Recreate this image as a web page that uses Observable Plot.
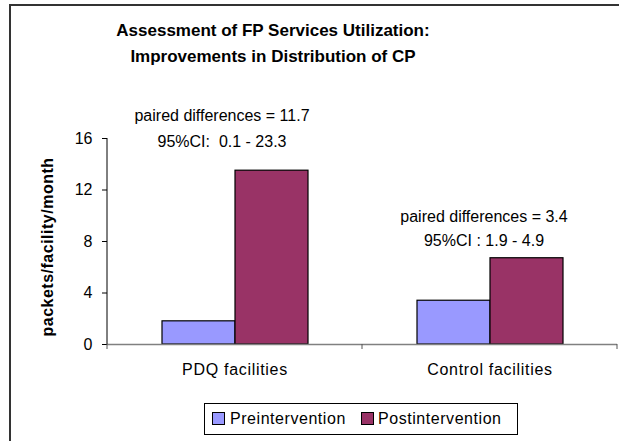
<!DOCTYPE html>
<html>
<head>
<meta charset="utf-8">
<script src="https://cdn.jsdelivr.net/npm/d3@7"></script>
<script src="https://cdn.jsdelivr.net/npm/@observablehq/plot@0.6"></script>
<style>
  body { margin: 0; background: #fff; }
  #wrap { position: relative; width: 619px; height: 441px; overflow: hidden; font-family: "Liberation Sans", Arial, sans-serif; background: #fff; }
  #wrap svg { position: absolute; left: 0; top: 0; }
  #frame { position: absolute; left: 9px; top: 4px; width: 700px; height: 600px; border-top: 2px solid #333; border-left: 2px solid #333; box-sizing: border-box; }
  #title { position: absolute; left: 0; top: 18px; width: 546px; text-align: center; font-weight: bold; font-size: 17px; line-height: 26px; color: #000; }
  #legend { position: absolute; left: 204px; top: 403px; width: 314px; height: 32px; border: 1px solid #000; box-sizing: border-box; font-size: 16px; color: #000; }
  #legend .sw { position: absolute; top: 8px; width: 13px; height: 13px; border: 1px solid #000; box-sizing: border-box; }
  #legend .lb { position: absolute; top: 5px; line-height: 20px; white-space: nowrap; letter-spacing: 0.55px; }
</style>
</head>
<body>
<div id="wrap">
  <div id="title">Assessment of FP Services Utilization:<br>Improvements in Distribution of CP</div>
</div>
<script>
// ---- data ----
const categories = ["PDQ facilities", "Control facilities"];
const series = ["Preintervention", "Postintervention"];
const preValues = [1.8, 3.4];
const postValues = [13.5, 6.7];
const yTicks = [0, 4, 8, 12, 16];
const seriesColors = ["#9999FF", "#993366"];
const annotationLine1 = ["paired differences = 11.7", "paired differences = 3.4"];
const annotationLine2 = ["95%CI:  0.1 - 23.3", "95%CI : 1.9 - 4.9"];
const annotationAt = [17.0, 9.2];
const yLabel = "packets/facility/month";

const rows = categories.flatMap((c, i) => [
  {cat: c, series: series[0], value: preValues[i]},
  {cat: c, series: series[1], value: postValues[i]}
]);
const notes = categories.map((c, i) => ({cat: c, y: annotationAt[i], text: annotationLine1[i] + "\n" + annotationLine2[i]}));

const chart = Plot.plot({
  width: 619,
  height: 441,
  marginLeft: 106,
  marginRight: 2,
  marginTop: 138,
  marginBottom: 97,
  style: {fontFamily: "'Liberation Sans', Arial, sans-serif", fontSize: "16px", background: "transparent", color: "#000", overflow: "visible"},
  fx: {domain: categories, padding: 0, axis: "bottom", tickSize: 0, tickPadding: 19, label: null},
  x: {domain: series, paddingInner: 0, paddingOuter: 0.741, axis: null},
  y: {domain: [0, 16], ticks: yTicks, tickSize: 5, tickPadding: 10, label: null},
  color: {domain: series, range: seriesColors},
  marks: [
    Plot.barY(rows, {fx: "cat", x: "series", y: "value", fill: "series", stroke: "#000", strokeWidth: 1.2}),
    Plot.ruleY([0], {stroke: "#808080", strokeWidth: 1.5}),
    Plot.text(notes.filter(d => d.cat === categories[0]), {fx: "cat", y: "y", text: "text", lineHeight: 1.65, dx: -13, fontSize: 16}),
    Plot.text(notes.filter(d => d.cat === categories[1]), {fx: "cat", y: "y", text: "text", lineHeight: 1.55, dx: -6, fontSize: 16})
  ]
});

const wrap = document.getElementById("wrap");
wrap.insertBefore(chart, wrap.firstChild);

// axis line and category boundary ticks, from the plot's own scales
const svg = d3.select(chart);
svg.selectAll("g[aria-label^='fx-axis'] text").attr("letter-spacing", "0.7px");
const fx = chart.scale("fx");
const y = chart.scale("y");
const y0 = y.apply(0), yTop = y.apply(yTicks[yTicks.length - 1]);
const left = fx.apply(categories[0]);
svg.append("line").attr("x1", left).attr("x2", left).attr("y1", yTop).attr("y2", y0)
  .attr("stroke", "#000").attr("stroke-width", 1);
const bounds = categories.map(c => fx.apply(c)).concat([fx.apply(categories[categories.length - 1]) + fx.bandwidth]);
bounds.forEach(b => {
  svg.append("line").attr("x1", b).attr("x2", b).attr("y1", y0).attr("y2", y0 + 5)
    .attr("stroke", "#555").attr("stroke-width", 1);
});
svg.append("text")
  .attr("transform", `translate(52.5, ${(y0 + yTop) / 2 + 6}) rotate(-90)`)
  .attr("text-anchor", "middle")
  .attr("font-weight", "bold")
  .attr("font-size", 16)
  .attr("letter-spacing", "0.5px")
  .attr("fill", "#000")
  .text(yLabel);

// frame
const frame = document.createElement("div");
frame.id = "frame";
wrap.appendChild(frame);

// legend
const legend = document.createElement("div");
legend.id = "legend";
const swLeft = [7, 156], lbLeft = [25, 173];
series.forEach((s, i) => {
  const sw = document.createElement("div");
  sw.className = "sw";
  sw.style.left = swLeft[i] + "px";
  sw.style.background = seriesColors[i];
  const lb = document.createElement("div");
  lb.className = "lb";
  lb.style.left = lbLeft[i] + "px";
  lb.textContent = s;
  legend.appendChild(sw);
  legend.appendChild(lb);
});
wrap.appendChild(legend);
</script>
</body>
</html>
